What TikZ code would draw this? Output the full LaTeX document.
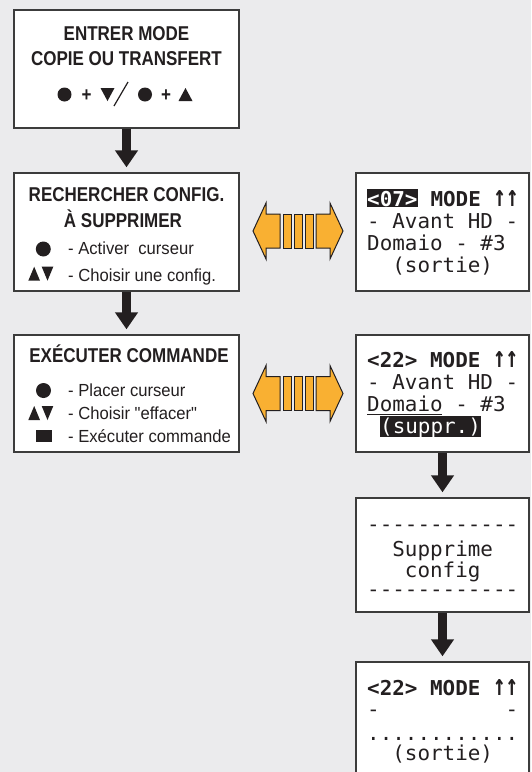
\documentclass[tikz,border=0pt]{standalone}
\usepackage{fontspec}
\usepackage{graphicx}
\usetikzlibrary{arrows.meta,calc}
\newfontfamily\hdfont[FakeStretch=0.85]{Liberation Sans}
\newfontfamily\bodyfont[FakeStretch=0.95]{Liberation Sans}
\newfontfamily\lcdfont[FakeStretch=1.02]{DejaVu Sans Mono}
\definecolor{bg}{HTML}{EBEBED}
\definecolor{ink}{HTML}{231F20}
\definecolor{orng}{HTML}{F9B032}
\definecolor{frame}{HTML}{3C3C3C}
\newcommand\lcdhy{-\kern0pt}
\newcommand\dashrow{\lcdhy\lcdhy\lcdhy\lcdhy\lcdhy\lcdhy\lcdhy\lcdhy\lcdhy\lcdhy\lcdhy\lcdhy}
\newcommand\uparr{\smash{\scalebox{1}[1.45]{↑↑}}}
\tikzset{
  dblarrow/.pic={
    \filldraw[fill=orng,draw=ink,line width=1pt,line join=miter]
      (-45,0) -- (-32,-28) -- (-32,-17) -- (-18,-17) -- (-18,17) -- (-32,17) -- (-32,28) -- cycle;
    \filldraw[fill=orng,draw=ink,line width=1pt,line join=miter]
      (45,0) -- (32,-28) -- (32,-17) -- (18,-17) -- (18,17) -- (32,17) -- (32,28) -- cycle;
    \filldraw[fill=orng,draw=ink,line width=1pt] (-15,-17) rectangle (-7,17);
    \filldraw[fill=orng,draw=ink,line width=1pt] (-4,-17) rectangle (4,17);
    \filldraw[fill=orng,draw=ink,line width=1pt] (7,-17) rectangle (15,17);
  }
}
\begin{document}
\begin{tikzpicture}[x=1pt,y=-1pt,
  box/.style={draw=frame,line width=1.3pt,fill=white,inner sep=0pt,rectangle},
  head/.style={font=\hdfont\bfseries\fontsize{20}{21}\selectfont,text=ink,inner sep=0pt,anchor=base},
  item/.style={font=\bodyfont\fontsize{17.5}{18}\selectfont,text=ink,inner sep=0pt,anchor=base west},
  lcd/.style={font=\lcdfont\fontsize{20.5}{21}\selectfont,text=ink,inner sep=0pt,anchor=base west},
  lcdb/.style={lcd,font=\lcdfont\bfseries\fontsize{20.5}{21}\selectfont},
  inv/.style={fill=ink,text=white},
  varrow/.style={draw=ink,line width=9pt,-{Triangle[width=22pt,length=17pt]},shorten >=5pt},
  sym/.style={fill=ink},
]
\fill[bg] (0,0) rectangle (531,772);
\useasboundingbox (0,0) rectangle (531,772);

% left boxes
\node[box,minimum width=225pt,minimum height=118pt] (b1) at (126.5,69) {};
\node[box,minimum width=225pt,minimum height=118pt] (b2) at (126.5,232) {};
\node[box,minimum width=225pt,minimum height=117pt] (b3) at (126.5,393.5) {};
% screens
\node[box,minimum width=173pt,minimum height=118pt] (s1) at (442.5,232) {};
\node[box,minimum width=173pt,minimum height=117pt] (s2) at (442.5,393.5) {};
\node[box,minimum width=173pt,minimum height=114pt] (s3) at (442.5,555) {};
\node[box,minimum width=173pt,minimum height=128pt] (s4) at (442.5,726) {};

% vertical arrows
\draw[varrow] (b1.south) -- (b2.north);
\draw[varrow] (b2.south) -- (b3.north);
\draw[varrow] (s2.south) -- (s3.north);
\draw[varrow] (s3.south) -- (s4.north);

% double arrows
\pic (da1) at (298,231) {dblarrow};
\pic (da2) at (298,393.5) {dblarrow};

% box 1
\node[head] (t11) at (126.5,40) {ENTRER MODE};
\node[head] (t12) at (126.5,65) {COPIE OU TRANSFERT};
\fill[sym] (64.5,94.5) circle (7);
\node[head] (p1) at (86.5,101) {+};
\fill[sym] (100.5,88) -- (114.5,88) -- (107.5,101) -- cycle;
\draw[ink,line width=1.2pt] (114,106) -- (128,82);
\fill[sym] (145,94.5) circle (7);
\node[head] (p2) at (166,101) {+};
\fill[sym] (178.5,101) -- (192.5,101) -- (185.5,88) -- cycle;

% box 2
\node[head] (t21) at (126.5,201) {RECHERCHER CONFIG.};
\node[head] (t22) at (123,227) {À SUPPRIMER};
\fill[sym] (43.3,249) circle (7.5);
\node[item] (t23) at (68,254) {- Activer~ curseur};
\fill[sym] (28.3,280.7) -- (40,280.7) -- (34.2,266.7) -- cycle;
\fill[sym] (41.7,266.7) -- (53.3,266.7) -- (47.5,280.7) -- cycle;
\node[item] (t24) at (68,281) {- Choisir une config.};

% box 3
\node[head] (t31) at (129,362) {EXÉCUTER COMMANDE};
\fill[sym] (43.5,390.5) circle (7.5);
\node[item] (t32) at (68,396) {- Placer curseur};
\fill[sym] (28.3,420) -- (40,420) -- (34.2,406) -- cycle;
\fill[sym] (41.7,406) -- (53.3,406) -- (47.5,420) -- cycle;
\node[item] (t33) at (68,419) {- Choisir "effacer"};
\fill[sym] (35.5,430) rectangle (51.5,442);
\node[item] (t34) at (68,442) {- Exécuter commande};

% screen 1
\node[lcdb,inv,text height=17pt,text depth=1pt] (c11) at (367,206) {<07>};
\node[lcdb] (c12) at (c11.base east) {~MODE~\uparr};
\node[lcd] (c13) at (367,228) {-~Avant~HD~-};
\node[lcd] (c14) at (367,250) {Domaio~-~\#3};
\node[lcd] (c15) at (367,272) {~~(sortie)};

% screen 2
\node[lcdb] (c21) at (367,367) {<22>~MODE~\uparr};
\node[lcd] (c22) at (367,389) {-~Avant~HD~-};
\node[lcd] (c23) at (367,411) {Domaio~-~\#3};
\draw[ink,line width=1.5pt] (367,414.5) -- (442,414.5);
\node[lcd] (c24a) at (367,433) {~~};
\node[lcd,inv,text height=17pt,text depth=4pt] (c24) at (c24a.base east) {(suppr.)};

% screen 3
\node[lcd] (c31) at (367,531) {\dashrow};
\node[lcd] (c32) at (367,556) {~~Supprime};
\node[lcd] (c33) at (367,577) {~~~config};
\node[lcd] (c34) at (367,596) {\dashrow};

% screen 4
\node[lcdb] (c41) at (367,695) {<22>~MODE~\uparr};
\node[lcd] (c42) at (367,716) {-~~~~~~~~~~-};
\node[lcd] (c43) at (367,740) {............};
\node[lcd] (c44) at (367,760) {~~(sortie)};
\end{tikzpicture}
\end{document}
